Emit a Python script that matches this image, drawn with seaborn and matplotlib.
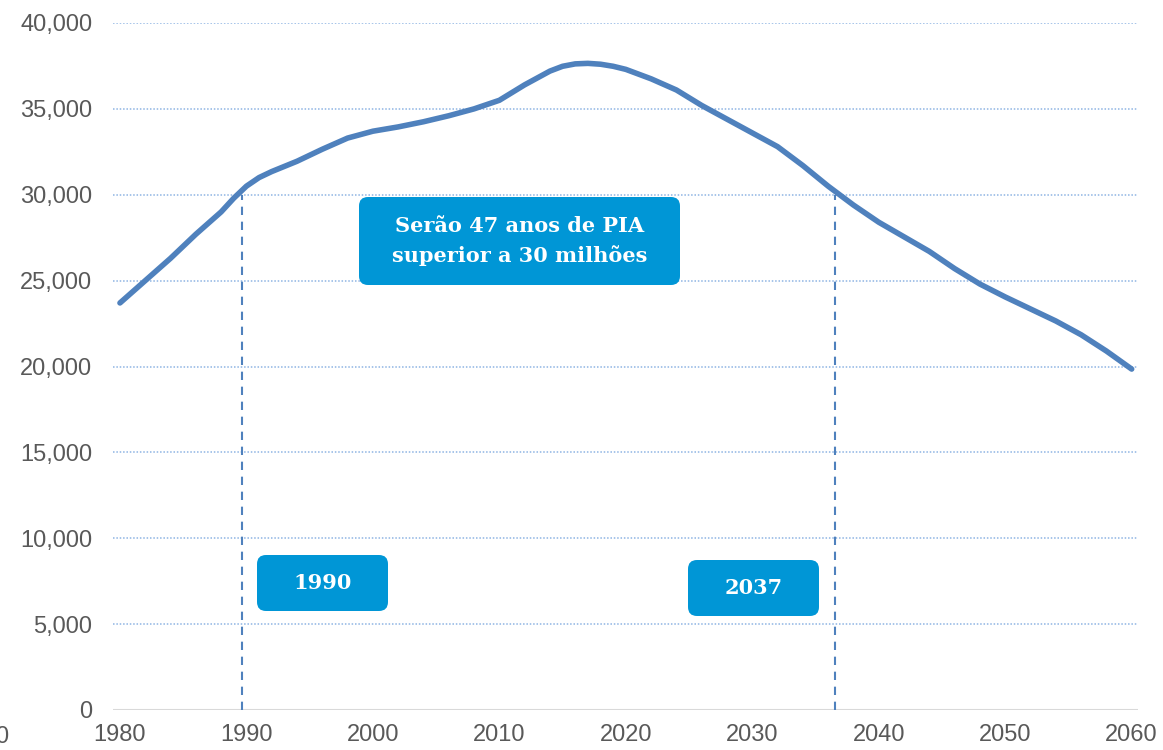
import matplotlib
matplotlib.use("Agg")
import matplotlib.pyplot as plt
import seaborn as sns
import pandas as pd
from matplotlib.patches import FancyBboxPatch
from matplotlib.ticker import FuncFormatter

# ---- data ----
years = [1980, 1982, 1984, 1986, 1988, 1989, 1990, 1991, 1992, 1994, 1996, 1998,
         2000, 2002, 2004, 2006, 2008, 2010, 2012, 2014, 2015, 2016, 2017, 2018, 2019,
         2020, 2022, 2024, 2026, 2028, 2030, 2032, 2034, 2036, 2038,
         2040, 2042, 2044, 2046, 2048, 2050, 2052, 2054, 2056, 2058, 2060]
pia = [23700, 25000, 26300, 27700, 29000, 29800, 30500, 31000, 31350, 31950, 32650, 33300,
       33700, 33950, 34250, 34600, 35000, 35500, 36400, 37200, 37480, 37620, 37650, 37600, 37480,
       37300, 36750, 36100, 35200, 34400, 33600, 32800, 31700, 30500, 29400,
       28400, 27550, 26700, 25700, 24800, 24050, 23350, 22650, 21850, 20900, 19850]
y_ticks = [0, 5000, 10000, 15000, 20000, 25000, 30000, 35000, 40000]
x_ticks = [1980, 1990, 2000, 2010, 2020, 2030, 2040, 2050, 2060]
marker_years = [1989.64, 2036.55]
marker_top = 30000
box_main_text = "Serão 47 anos de PIA\nsuperior a 30 milhões"
box_year_texts = ["1990", "2037"]

df = pd.DataFrame({"ano": years, "pia": pia})

sns.set_style("white")
plt.rcParams['font.family'] = ['Liberation Sans', 'DejaVu Sans']

W, H = 1163, 750
fig = plt.figure(figsize=(W / 100, H / 100), dpi=100)
ax = fig.add_axes([113 / W, 1 - 710 / H, (1138 - 113) / W, (710 - 23) / H])

# grid lines
for v in y_ticks[1:]:
    ax.axhline(v, color="#8EB4E3", linestyle=(0, (1, 1.2)), linewidth=1.1, zorder=1)
ax.axhline(0, color="#D9D9D9", linewidth=1.5, zorder=1)

# vertical dashed markers
for xv in marker_years:
    ax.plot([xv, xv], [0, marker_top], color="#4F81BD", linestyle=(0, (4, 3.2)),
            linewidth=1.5, zorder=2)

sns.lineplot(data=df, x="ano", y="pia", ax=ax, color="#4F81BD", linewidth=4.0,
             zorder=3, solid_capstyle="round", solid_joinstyle="round")

ax.set_xlim(1979.45, 2060.5)
ax.set_ylim(0, 40000)
ax.set_xticks(x_ticks)
ax.set_yticks(y_ticks)
ax.yaxis.set_major_formatter(FuncFormatter(lambda v, p: f"{int(v):,}"))
ax.tick_params(axis="both", length=0, labelsize=17, labelcolor="#595959")
ax.tick_params(axis="y", pad=15)
ax.tick_params(axis="x", pad=10)
ax.set_xlabel("")
ax.set_ylabel("")
for s in ax.spines.values():
    s.set_visible(False)

# stray partial label at far left bottom (cut off in the reference too)
fig.text(8 / W, 1 - 737 / H, "0", ha="right", va="center", fontsize=17, color="#595959")

# boxes
box_color = "#0096D6"

def add_box(x0, y0, x1, y1, text, fs, ls=1.2):
    bw, bh = (x1 - x0) / W, (y1 - y0) / H
    r = 9
    p = FancyBboxPatch((x0 / W, 1 - y1 / H), bw, bh,
                       boxstyle=f"round,pad=0,rounding_size={r / W}",
                       transform=fig.transFigure, facecolor=box_color,
                       edgecolor="none", zorder=5, mutation_aspect=W / H)
    fig.add_artist(p)
    fig.text((x0 + x1) / 2 / W, 1 - (y0 + y1) / 2 / H, text, ha="center", va="center",
             color="white", fontsize=fs, fontweight="bold", family="DejaVu Serif",
             linespacing=ls, zorder=6)

add_box(359, 197, 680, 285, box_main_text, 15, 1.6)
add_box(257, 555, 388, 611, box_year_texts[0], 15)
add_box(688, 560, 819, 616, box_year_texts[1], 15)

fig.savefig("out.png", dpi=100)
